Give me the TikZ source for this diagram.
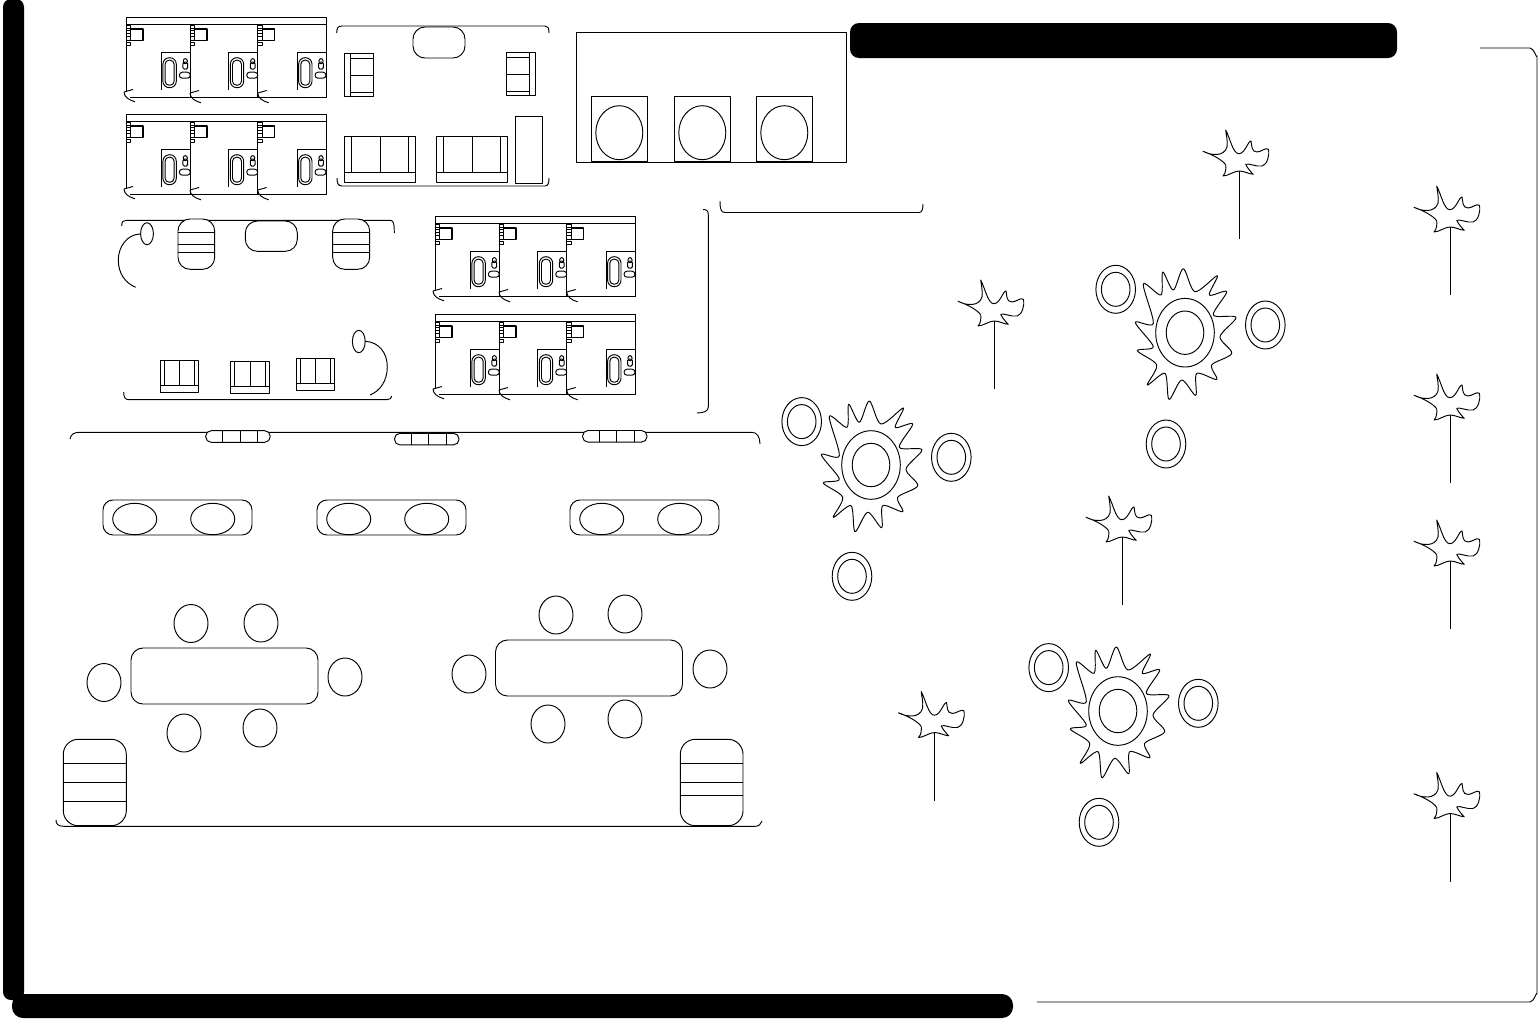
\documentclass[tikz,border=0pt]{standalone}
\begin{document}
\begin{tikzpicture}[x=1pt,y=-1pt,line width=0.95pt,line join=round,
 blackbar/.style={fill=black,draw=none,rounded corners=#1},
 pics/cheadfurn/.style={code={
   \foreach \yy in {25,30,36.7,42}{\draw[line width=0.8pt] (0,\yy-17) rectangle +(4.5,3.4);}
   \draw[line width=1.2pt] (4.5,12) rectangle (17,23.5);
 }},
 pics/bath/.style={code={
   \draw (0,37) -- (0,0) -- (29,0);
   \draw[rounded corners=6.5pt] (1.6,5) rectangle (15,35);
   \draw[rounded corners=4pt] (3.8,7.5) rectangle (12.8,32.5);
   \draw (24,8.5) ellipse (2.1 and 2.6);
   \draw[rounded corners=1.5pt] (21.6,9.5) rectangle (26.4,16.5);
   \draw[rounded corners=3pt] (18,19.5) rectangle (29,25.5);
 }},
 pics/door/.style={code={
   \draw (0,0) -- (9,-2.5);
   \draw (0,0) .. controls (0,5) and (5,8) .. (11,9.8);
 }},
 pics/triple/.style={code={
   \draw (0,0) rectangle (200,7);
   \draw (0,7) -- (0,75);
   \draw (4,80) -- (200,80) -- (200,7);
   \draw (64,7) -- (64,80) (131.7,7) -- (131.7,80);
   \pic at (0,0) {cheadfurn};
   \pic at (64,0) {cheadfurn};
   \pic at (131.7,0) {cheadfurn};
   \pic at (35.3,35.7) {bath};
   \pic at (102.7,35.7) {bath};
   \pic at (171,35.7) {bath};
   \pic at (-2,75) {door};
   \pic at (64,76) {door};
   \pic at (131.7,76) {door};
 }},
 pics/cushionchair/.style={code={
   \draw (0,0) rectangle (38.7,32);
   \draw (4,0) -- (4,25) (19.3,0) -- (19.3,25) (34.7,0) -- (34.7,25) (0,25) -- (38.7,25);
 }},
 pics/bench/.style={code={
   \draw[rounded corners=10pt] (0,0) rectangle (149,35);
   \draw (31.7,19) ellipse (22 and 15.7);
   \draw (109.7,19) ellipse (22 and 15.7);
 }},
 pics/minibench/.style={code={
   \draw[rounded corners=5.5pt,fill=white] (0,0) rectangle (64.5,11.6);
   \draw (17,0) -- (17,11.6) (34.3,0) -- (34.3,11.6) (51.6,0) -- (51.6,11.6);
 }},
 pics/seat/.style={code={\draw (0,0) ellipse (17 and 19);}},
 pics/tablesix/.style={code={
   \draw[rounded corners=12pt] (0,0) rectangle (187,56);
 }},
 pics/ring/.style={code={
   \draw (0,0) ellipse (19.8 and 24);
   \draw (0,0) ellipse (14.3 and 17);
 }},
 pics/pad/.style={code={
   \draw (0,0) rectangle (56,64.5);
   \draw (28,36) ellipse (23.5 and 27);
 }},
 pics/palm/.style={code={
   \draw (0,0) -- (0,68);
   \draw (-36,-19.7) .. controls (-28,-15.5) and (-15,-14) .. (-12,-24)
     .. controls (-11,-30) and (-13,-37) .. (-13.3,-41)
     .. controls (-9,-33) and (-6,-17) .. (0,-17.3)
     .. controls (6,-17.5) and (9,-30) .. (12,-30)
     .. controls (13,-26) and (12,-19) .. (18,-19)
     .. controls (22,-19) and (27,-24) .. (29.3,-21.7)
     .. controls (31,-16) and (28,-6) .. (23,-5)
     .. controls (17,-4) and (10,-8) .. (6.7,-6.7)
     .. controls (9,-2) and (12,1) .. (14.3,3.3)
     .. controls (10,3) and (5,0) .. (0,0)
     .. controls (-5,0) and (-11,5) .. (-16,5)
     .. controls (-13,2) and (-13,-3) .. (-13.3,-6)
     .. controls (-16,-11) and (-28,-17) .. cycle;
 }},
 pics/sun/.style={code={
   \draw (0,0) ellipse (18.8 and 21.7);
   \draw (0,0) ellipse (29.3 and 34.3);
   \draw plot[smooth cycle,tension=0.5] coordinates {
     (-1.7,-64) (10,-41) (32.3,-57) (24.3,-37.7) (41.7,-41) (28.3,-17.7) (51,-15.3)
     (35,4) (46.7,20.7) (26.7,32.3) (31.7,46.7) (11.7,40.7) (10.7,62.7) (-3.3,47.3)
     (-16,66.7) (-20,40.7) (-37.7,52.3) (-28.3,32.3) (-47.7,18) (-31.7,14) (-49.7,-10.3)
     (-31.7,-9.3) (-41.7,-48.7) (-24,-37.7) (-22.3,-60.7) (-11.7,-42.7)};
   \pic at (-69.3,-43.4) {ring};
   \pic at (80.3,-7.7) {ring};
   \pic at (-19,111.3) {ring};
 }}
]
\useasboundingbox (0,0) rectangle (1538,1018);
% black bars
\fill[blackbar=8pt] (3,-1) rectangle (24,1000);
\fill[blackbar=11pt] (12,994) rectangle (1013,1018);
\fill[blackbar=9pt] (850,23) rectangle (1397,58);
% right frame
\draw (1480,48) -- (1530,48) to[out=0,in=-90] (1537,56) -- (1537,994) to[out=90,in=0] (1530,1002) -- (1037,1002);
% bedrooms
\pic at (126,17) {triple};
\pic at (126,114) {triple};
\pic at (435,216) {triple};
\pic at (435,314) {triple};
% lounge one
\draw (336.7,33) .. controls (336.7,28) and (338,26) .. (342,26) -- (545,26) .. controls (548,26) and (549,28) .. (549,33);
\draw (337,178) .. controls (337,183) and (338,186) .. (342,186) -- (545,186) .. controls (548,186) and (549,183) .. (549,178);
\draw[rounded corners=12pt,fill=white] (413,27) rectangle (465,58);
\draw (344.7,53.7) rectangle (373.3,96.3);
\draw (350.7,53.7) -- (350.7,96.3) (350.7,58.3) -- (373.3,58.3) (350.7,75) -- (373.3,75) (350.7,92.7) -- (373.3,92.7);
\draw (506.7,52.3) rectangle (535.3,95.7);
\draw (529.3,52.3) -- (529.3,95.7) (506.7,57) -- (529.3,57) (506.7,74) -- (529.3,74) (506.7,91.7) -- (529.3,91.7);
\draw[fill=white] (344.7,136.3) rectangle (415.3,182.3);
\draw (351.3,136.3) -- (351.3,172.3) (380,136.3) -- (380,172.3) (408.7,136.3) -- (408.7,172.3) (344.7,172.3) -- (415.3,172.3);
\draw[fill=white] (436.7,136.3) rectangle (507.3,182.3);
\draw (443.3,136.3) -- (443.3,172.3) (472,136.3) -- (472,172.3) (500.3,136.3) -- (500.3,172.3) (436.7,172.3) -- (507.3,172.3);
\draw[fill=white] (515.3,116.3) rectangle (542.3,183.3);
% lounge two
\draw (121.7,226) .. controls (121.7,222) and (123,220.3) .. (126,220.3) -- (390,220.3) .. controls (393,220.3) and (394.3,222) .. (394.3,233);
\draw[rounded corners=12pt,fill=white] (178,219) rectangle (214.7,269.3);
\draw (178,232.7) -- (214.7,232.7) (178,244) -- (214.7,244) (178,252) -- (214.7,252);
\draw[rounded corners=12pt,fill=white] (245.3,221) rectangle (297.3,251.3);
\draw[rounded corners=12pt,fill=white] (332.7,219) rectangle (369.7,269.3);
\draw (332.7,232.7) -- (369.7,232.7) (332.7,244.3) -- (369.7,244.3) (332.7,252.7) -- (369.7,252.7);
\draw (147,233.7) ellipse (6.4 and 11);
\draw (140.7,234) .. controls (127,234) and (118.3,247) .. (118.3,260) .. controls (118.3,273) and (125,283) .. (135.7,287.3);
\draw (358.8,341.5) ellipse (6.4 and 11.2);
\draw (365.3,341.3) .. controls (379,342) and (387.3,353) .. (387.3,366.7) .. controls (387.3,381) and (380,391) .. (370,395);
\draw (123.7,392) .. controls (123.7,397) and (125,399.7) .. (129,399.7) -- (387,399.7) .. controls (390,399.7) and (391.7,398) .. (391.7,396);
\pic at (160,360.3) {cushionchair};
\pic at (230.7,361) {cushionchair};
\pic at (296,358.7) {cushionchair};
% top-right room
\draw (576,32) rectangle (846,162);
\pic at (591.3,96.7) {pad};
\pic at (674.3,96.7) {pad};
\pic at (756.3,96.7) {pad};
\draw (720,201) .. controls (720,209) and (721,212.5) .. (725,212.5) -- (919,212.5) .. controls (922,212.5) and (923,209) .. (923,204);
\draw (703,209.5) .. controls (707,209.5) and (708.3,211) .. (708.3,215) -- (708.3,407) .. controls (708.3,411) and (704,413) .. (697,413);
% long area
\draw (70,439) .. controls (71,434) and (74,432.3) .. (80,432.3) -- (752,432.3) .. controls (757,432.3) and (760,437) .. (760,444);
\pic at (205.7,430.7) {minibench};
\pic at (394.5,433.3) {minibench};
\pic at (582.5,430.5) {minibench};
\pic at (103,500) {bench};
\pic at (317,500) {bench};
\pic at (570,500) {bench};
% dining
\pic at (131,648) {tablesix};
\pic at (191,623.5) {seat};
\pic at (261,623) {seat};
\pic at (104,682.5) {seat};
\pic at (345,677) {seat};
\pic at (184,733) {seat};
\pic at (260,728) {seat};
\pic at (495.5,640) {tablesix};
\pic at (556,615) {seat};
\pic at (625,614) {seat};
\pic at (469,674) {seat};
\pic at (710,669) {seat};
\pic at (548,724) {seat};
\pic at (625,719) {seat};
% end chairs
\draw (56,820) .. controls (56,824) and (58,826.3) .. (64,826.3) -- (755,826.3) .. controls (759,826.3) and (761,824) .. (762,821);
\draw[rounded corners=15pt,fill=white] (63.3,739.3) rectangle (126.3,825.7);
\draw (63.3,763) -- (126.3,763) (63.3,782.3) -- (126.3,782.3) (63.3,801.3) -- (126.3,801.3);
\draw[rounded corners=15pt,fill=white] (680.3,739.3) rectangle (743,825.7);
\draw (680.3,763) -- (743,763) (680.3,782.3) -- (743,782.3) (680.3,795.7) -- (743,795.7);
% palms
\pic at (1239,171) {palm};
\pic at (1450,227) {palm};
\pic at (994,321) {palm};
\pic at (1450,415) {palm};
\pic at (1122,537) {palm};
\pic at (1450,561) {palm};
\pic at (934.5,732.5) {palm};
\pic at (1450,813.5) {palm};
% suns
\pic at (1185,332.7) {sun};
\pic at (871,465) {sun};
\pic at (1118,711) {sun};
\end{tikzpicture}
\end{document}
